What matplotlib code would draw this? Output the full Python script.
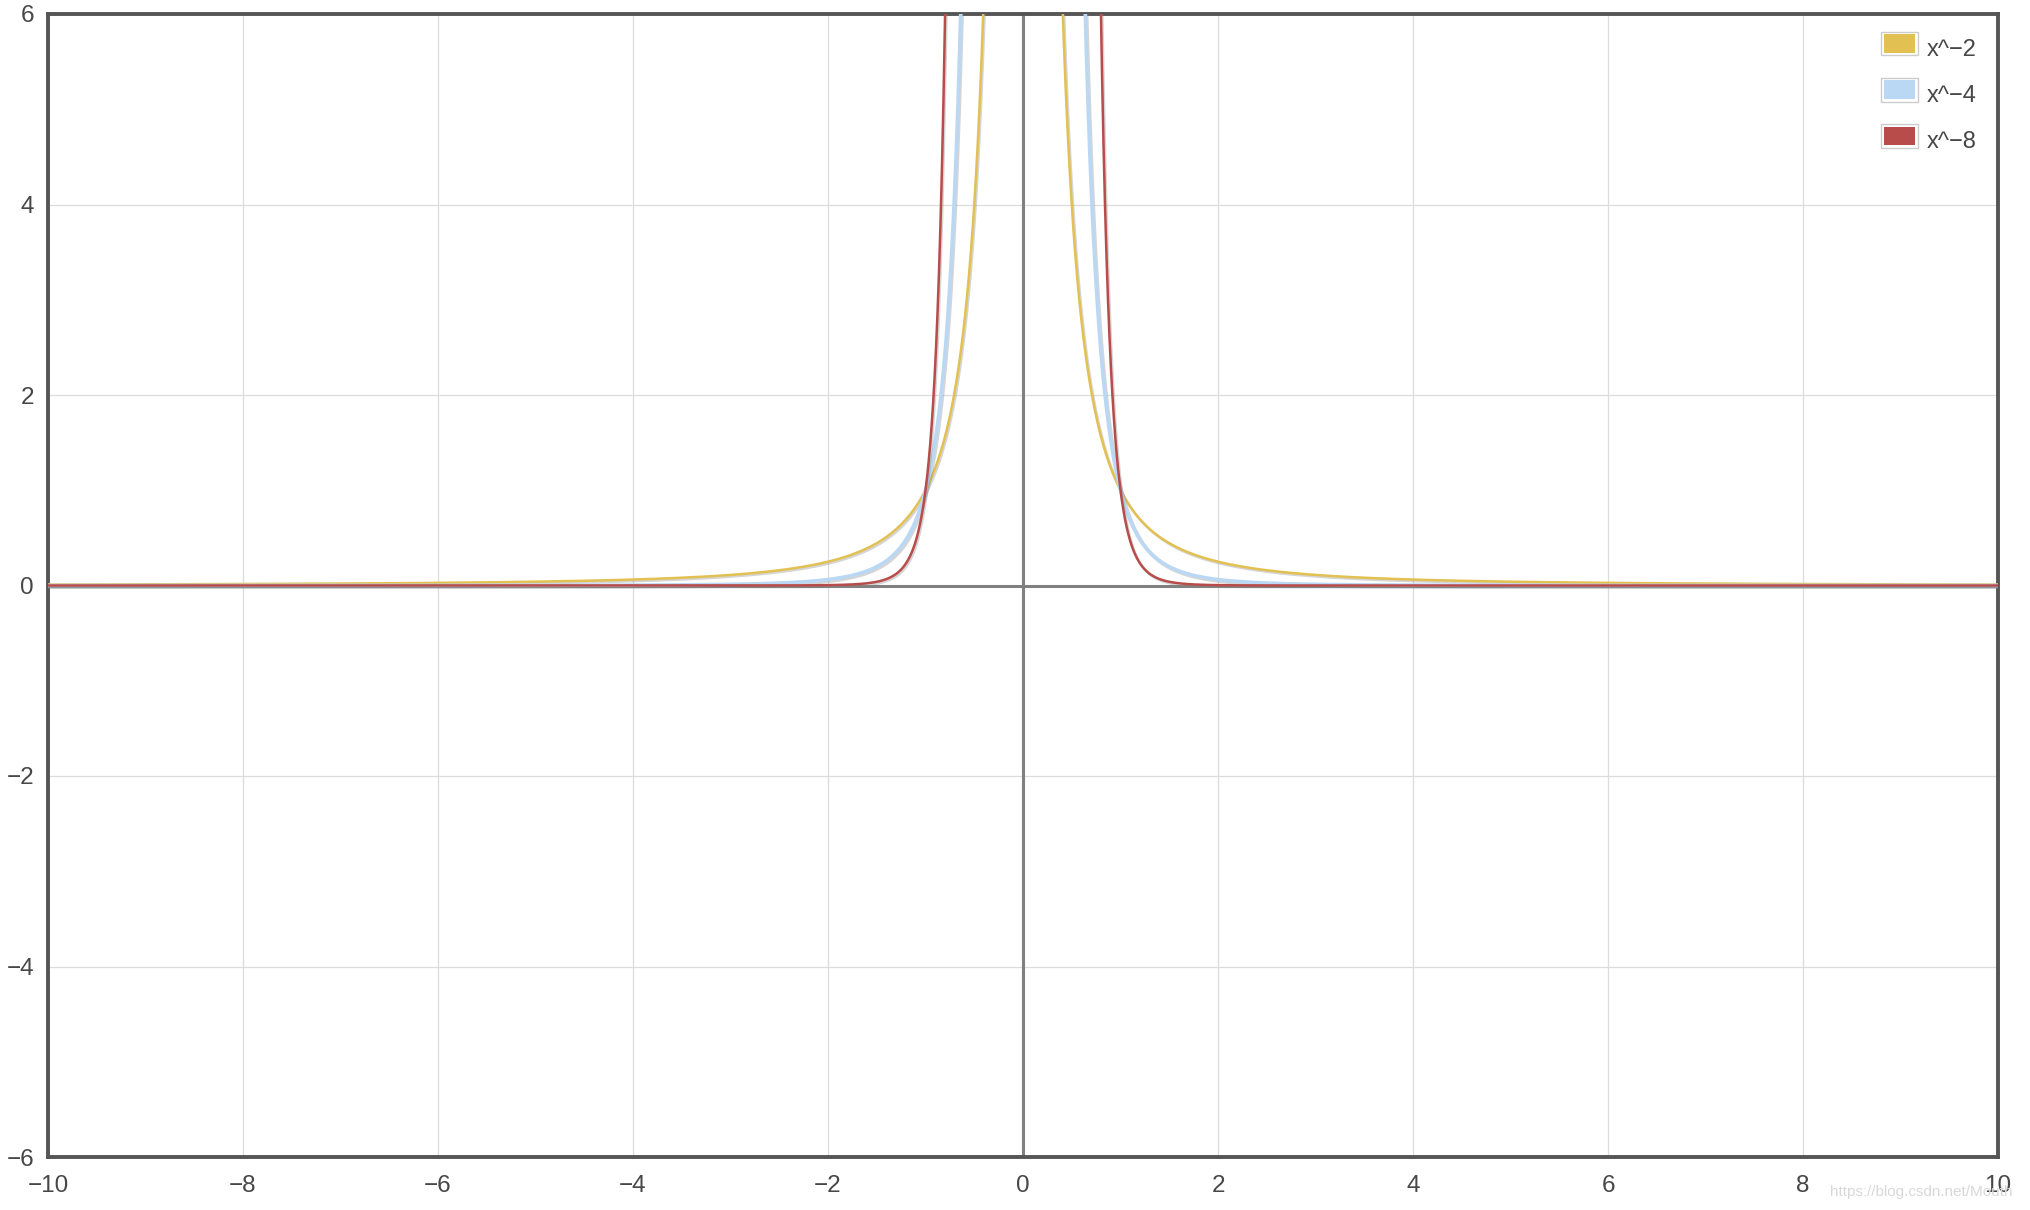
import numpy as np
import matplotlib
matplotlib.use("Agg")
import matplotlib.pyplot as plt
from matplotlib.patches import Patch, Rectangle
import matplotlib.patheffects as pe

# Data: power functions y = x^p
exponents = [-2, -4, -8]
labels = ["x^\u22122", "x^\u22124", "x^\u22128"]
colors = ["#E2C052", "#BAD8F4", "#B84C4A"]
widths = [1.8, 2.6, 1.8]
x_range = (-10, 10)
y_range = (-6, 6)
x_ticks = [-10, -8, -6, -4, -2, 0, 2, 4, 6, 8, 10]
y_ticks = [-6, -4, -2, 0, 2, 4, 6]
tick_labels_x = ["\u221210", "\u22128", "\u22126", "\u22124", "\u22122", "0", "2", "4", "6", "8", "10"]
tick_labels_y = ["\u22126", "\u22124", "\u22122", "0", "2", "4", "6"]

plt.rcParams['font.family'] = ['Liberation Sans', 'DejaVu Sans']

fig = plt.figure(figsize=(20.3, 12.1), dpi=100)
ax = fig.add_axes([48/2030, 1-1157/1210, 1950/2030, 1143/1210])

x = np.linspace(x_range[0], x_range[1], 8000)
x = x[x != 0]

# zero axes
ax.axhline(0, color="#808080", lw=2.2, zorder=2)
ax.axvline(0, color="#808080", lw=2.2, zorder=2)

for p, lab, c, w in zip(exponents, labels, colors, widths):
    y = x ** float(p)
    ax.plot(x, y, color=c, lw=w, zorder=3, label=lab,
            path_effects=[pe.SimpleLineShadow(offset=(1.0, -1.2), shadow_color="#888888", alpha=0.35),
                          pe.Normal()])

ax.set_xlim(*x_range)
ax.set_ylim(*y_range)
ax.set_xticks(x_ticks)
ax.set_xticklabels(tick_labels_x)
ax.set_yticks(y_ticks)
ax.set_yticklabels(tick_labels_y)
ax.grid(True, color="#dcdcdc", lw=0.9, zorder=0)
ax.set_axisbelow(True)
ax.tick_params(axis="both", length=0, labelsize=17.5, labelcolor="#474747")
ax.tick_params(axis="x", pad=13)
ax.tick_params(axis="y", pad=10)
for s in ax.spines.values():
    s.set_color("#555555")
    s.set_linewidth(2.8)


class SwatchHandler:
    def legend_artist(self, legend, orig_handle, fontsize, handlebox):
        x0, y0 = handlebox.xdescent, handlebox.ydescent
        w, h = handlebox.width, handlebox.height
        tr = handlebox.get_transform()
        outer = Rectangle((x0 - 1.2, y0 - 1.2), w + 2.4, h + 2.4, facecolor="white",
                          edgecolor="#cccccc", lw=1.0, transform=tr)
        inner = Rectangle((x0 + 0.6, y0 + 0.6), w - 1.2, h - 1.2,
                          facecolor=orig_handle.get_facecolor(), edgecolor="none", transform=tr)
        handlebox.add_artist(outer)
        handlebox.add_artist(inner)
        return inner


handles = [Patch(facecolor=c) for c in colors]
leg = ax.legend(handles, labels, loc="upper right", fontsize=17, frameon=False,
                handlelength=1.4, handleheight=0.95, handletextpad=0.45,
                labelspacing=0.97, borderaxespad=0.0, labelcolor="#474747",
                bbox_to_anchor=(1 - 12/1950, 1 - 14/1143),
                handler_map={Patch: SwatchHandler()})

fig.text(1830/2030, 1-1192/1210, "https://blog.csdn.net/Mouth", fontsize=11,
         color="#d8d8d8", va="center", ha="left", zorder=0)

fig.savefig("out.png", dpi=100)
